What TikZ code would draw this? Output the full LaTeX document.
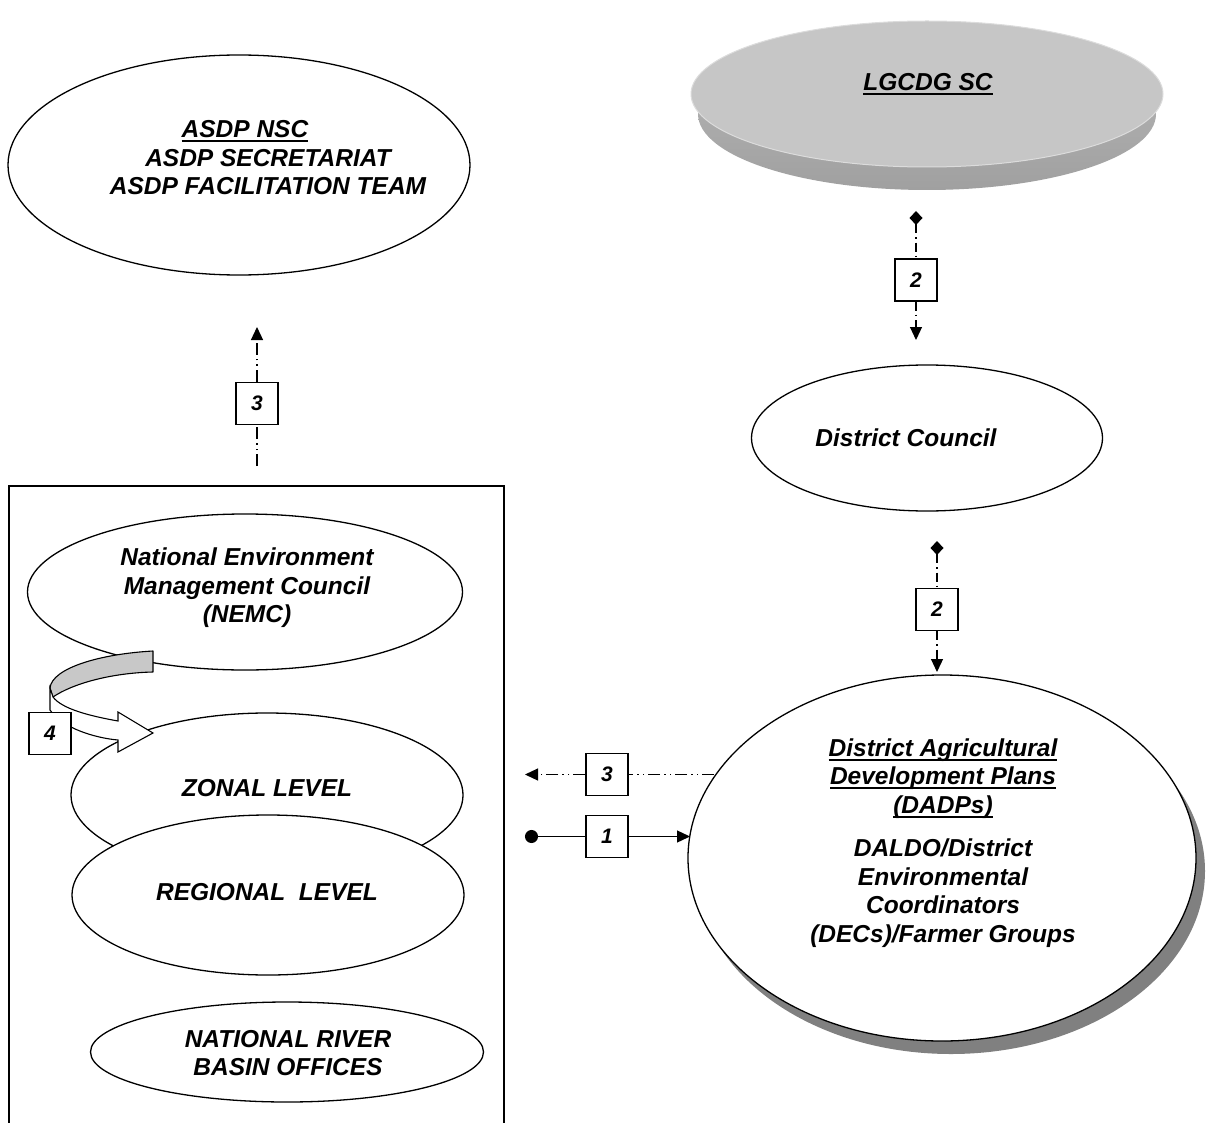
\documentclass[tikz,border=0pt]{standalone}
\usepackage{fontspec}
\setmainfont{Liberation Sans}
\usetikzlibrary{shapes.geometric,arrows.meta}
\definecolor{lgface}{HTML}{C6C6C6}
\definecolor{lgedge}{HTML}{DCDCDC}
\definecolor{lgrimtop}{HTML}{B8B8B8}
\definecolor{lgrimbot}{HTML}{A0A0A0}
\definecolor{ribbongray}{HTML}{C8C8C8}
\definecolor{shadowgray}{HTML}{808080}
\newcommand\tfont{\fontsize{24.5}{28.5}\selectfont\bfseries\itshape}
\newcommand\nfont{\fontsize{21}{22}\selectfont\bfseries\itshape}
\newsavebox\ulbox
\newcommand\ulx[1]{\sbox\ulbox{#1}\rlap{\rule[-4.5pt]{\wd\ulbox}{2.2pt}}\usebox\ulbox}
\begin{document}
\begin{tikzpicture}[x=1pt,y=-1pt,
  ell/.style={ellipse, draw, line width=1.3pt, fill=white, inner sep=0pt},
  txt/.style={align=center, font=\tfont, inner sep=0pt},
  numbox/.style={draw, line width=1.2pt, fill=white, minimum width=42pt, minimum height=42pt, inner sep=0pt, font=\nfont},
  dd/.style={line width=1.2pt, dash pattern=on 9pt off 4pt on 1.5pt off 4pt},
  ddd/.style={line width=1.2pt, dash pattern=on 12pt off 4pt on 1.5pt off 4pt on 1.5pt off 4pt},
  tri/.style={-{Triangle[length=13pt,width=12pt]}},
  dstart/.style={{Diamond[length=14pt,width=13pt]}-}
]
\useasboundingbox (0,0) rectangle (1212,1123);

% ---------- ASDP ----------
\node[ell, minimum width=462pt, minimum height=220pt] (asdp) at (239,165) {};
\node[txt] (asdptxt) at (268,158) {\ulx{ASDP NSC}\hspace*{46pt}\\ASDP SECRETARIAT\\ASDP FACILITATION TEAM};

% ---------- LGCDG SC ----------
\node[ellipse, inner sep=0pt, minimum width=458pt, minimum height=152pt, top color=lgrimtop, bottom color=lgrimbot] (lgrim) at (927,114) {};
\node[ellipse, inner sep=0pt, minimum width=472pt, minimum height=146pt, fill=lgface, draw=lgedge, line width=1pt] (lgcdg) at (927,94) {};
\node[txt] (lgtxt) at (928,84) {\ulx{LGCDG SC}};

% ---------- District Council ----------
\node[ell, minimum width=351pt, minimum height=146pt] (dc) at (927,438) {};
\node[txt] (dctxt) at (906,438) {District Council};

% ---------- DADP ----------
\node[ellipse, inner sep=0pt, minimum width=508pt, minimum height=366pt, fill=shadowgray] (dadpsh) at (951,871) {};
\node[ell, minimum width=508pt, minimum height=366pt] (dadp) at (942,858) {};
\node[txt] (dadptxt) at (943,843) {\ulx{District Agricultural}\\\ulx{Development Plans}\\\ulx{(DADPs)}\\[15pt]DALDO/District\\Environmental\\Coordinators\\(DECs)/Farmer Groups};

% ---------- left container ----------
\draw[line width=1.3pt] (9,1123) -- (9,486) -- (504,486) -- (504,1123);

\node[ell, minimum width=435pt, minimum height=156pt] (nemc) at (245,592) {};
\node[txt] (nemctxt) at (247,588) {National Environment\\Management Council\\(NEMC)};

\node[ell, minimum width=392pt, minimum height=164pt] (zonal) at (267,795) {};
\node[txt] (zonaltxt) at (267,788) {ZONAL LEVEL};

\node[ell, minimum width=392pt, minimum height=160pt] (regional) at (268,895) {};
\node[txt] (regtxt) at (267,892) {REGIONAL\ \ LEVEL};

\node[ell, minimum width=393pt, minimum height=100pt] (river) at (287,1052) {};
\node[txt] (rivertxt) at (288,1053) {NATIONAL RIVER\\BASIN OFFICES};

% ---------- curved ribbon arrow 4 ----------
\draw[line width=1.1pt, fill=ribbongray, line join=round]
  (153,651) .. controls (100,654) and (52,668) .. (50,688)
  -- (53,697) .. controls (72,684) and (110,673) .. (153,672) -- cycle;
\draw[line width=1.1pt, fill=white, line join=miter]
  (50,688) -- (50,710) .. controls (62,728) and (95,738) .. (118,740)
  -- (118,752) -- (153,733) -- (118,712) -- (118,721)
  .. controls (90,716) and (62,709) .. (53,697) -- cycle;
\node[numbox] (b4) at (50,733.5) {4};

% ---------- connectors ----------
\node[numbox] (b2a) at (916,280) {2};
\coordinate (d2a) at (916,211);
\coordinate (t2a) at (916,340);
\draw[dd, dstart] (d2a) -- (b2a.north);
\draw[dd, tri] (b2a.south) -- (t2a);

\node[numbox] (b2b) at (937,609.5) {2};
\coordinate (d2b) at (937,541);
\coordinate (t2b) at (937,672);
\draw[dd, dstart] (d2b) -- (b2b.north);
\draw[dd, tri] (b2b.south) -- (t2b);

\node[numbox] (b3v) at (257,403.5) {3};
\coordinate (t3v) at (257,327);
\coordinate (s3v) at (257,466);
\draw[ddd, tri] (b3v.north) -- (t3v);
\draw[ddd] (s3v) -- (b3v.south);

\node[numbox] (b3h) at (607,774.5) {3};
\coordinate (e3h) at (714,774.5);
\coordinate (t3h) at (525,774.5);
\draw[ddd] (e3h) -- (b3h.east);
\draw[ddd, tri] (b3h.west) -- (t3h);

\node[numbox] (b1) at (607,836.5) {1};
\coordinate (s1) at (525,836.5);
\coordinate (e1) at (690,836.5);
\draw[line width=1.3pt, {Circle[length=13pt]}-] (s1) -- (b1.west);
\draw[line width=1.3pt, tri] (b1.east) -- (e1);
\end{tikzpicture}
\end{document}
